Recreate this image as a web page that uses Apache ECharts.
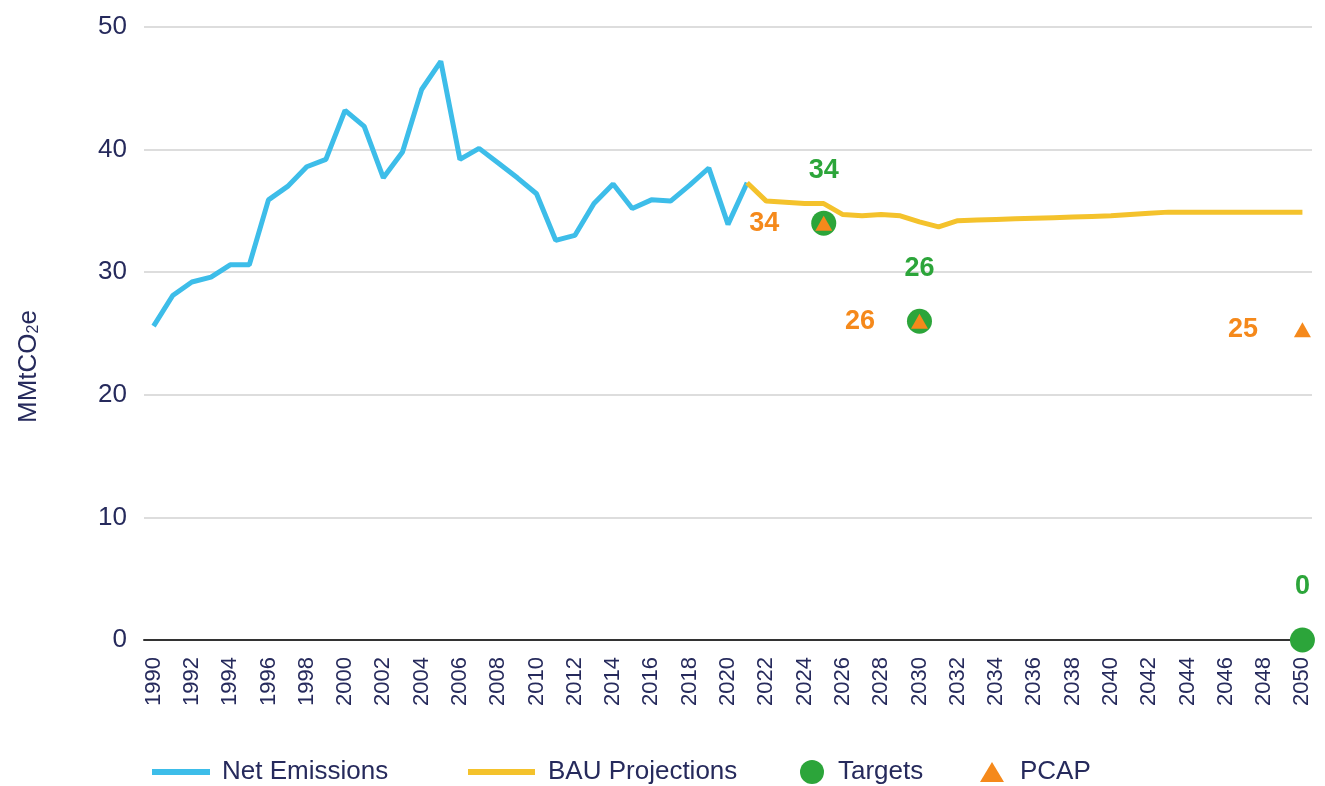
<!DOCTYPE html>
<html>
<head>
<meta charset="utf-8">
<script src="https://cdn.jsdelivr.net/npm/echarts@6/dist/echarts.min.js"></script>
<style>
  html, body { margin: 0; padding: 0; background: #fff; }
  #chart { width: 1325px; height: 786px; }
</style>
</head>
<body>
<div id="chart"></div>
<script>
const years = []
for (let y = 1990; y <= 2050; y++) years.push(String(y))

// 1990 - 2021
const netEmissions = [
  25.6, 28.1, 29.2, 29.6, 30.6, 30.6, 35.9, 37.0, 38.6, 39.2,
  43.2, 41.9, 37.7, 39.8, 44.9, 47.2, 39.2, 40.1, 38.9, 37.7,
  36.4, 32.6, 33.0, 35.6, 37.2, 35.2, 35.9, 35.8, 37.1, 38.5,
  33.9, 37.3
]
// 2021 - 2050
const bauProjections = [
  37.3, 35.8, 35.7, 35.6, 35.6, 34.7, 34.6, 34.7, 34.6, 34.1,
  33.7, 34.2, 34.25, 34.3, 34.35, 34.4, 34.45, 34.5, 34.55, 34.6,
  34.7, 34.8, 34.9, 34.9, 34.9, 34.9, 34.9, 34.9, 34.9, 34.9
]
const targetYears = ['2025', '2030', '2050']
const targetValues = [34, 26, 0]
const pcapYears = ['2025', '2030', '2050']
const pcapValues = [34, 26, 25.3]

const navy = '#262a5c'
const green = '#2ca53a'
const orange = '#f5891b'

function padded(startYear, values) {
  const out = years.map(() => null)
  const i0 = years.indexOf(startYear)
  values.forEach((v, i) => { out[i0 + i] = v })
  return out
}
function points(ys, vals) {
  const out = years.map(() => null)
  ys.forEach((y, i) => { out[years.indexOf(y)] = vals[i] })
  return out
}

const chart = echarts.init(document.getElementById('chart'))
const legendText = { color: navy, fontSize: 26, fontFamily: 'Liberation Sans' }
const option = {
  backgroundColor: '#fff',
  animation: false,
  textStyle: { fontFamily: 'Liberation Sans' },
  grid: { left: 144, right: 13, top: 27, bottom: 146, containLabel: false, outerBoundsMode: 'none' },
  legend: [
    { data: ['Net Emissions'], left: 147, top: 754, icon: 'rect', itemWidth: 58, itemHeight: 6,
      textStyle: Object.assign({ padding: [0, 0, 0, 7] }, legendText) },
    { data: ['BAU Projections'], left: 463, top: 754, icon: 'rect', itemWidth: 67, itemHeight: 6,
      textStyle: Object.assign({ padding: [0, 0, 0, 8] }, legendText) },
    { data: ['Targets'], left: 795, top: 754, icon: 'circle', itemWidth: 24, itemHeight: 24,
      textStyle: Object.assign({ padding: [0, 0, 0, 9] }, legendText) },
    { data: ['PCAP'], left: 975, top: 754, icon: 'triangle', itemWidth: 24, itemHeight: 20,
      textStyle: Object.assign({ padding: [0, 0, 0, 11] }, legendText) }
  ],
  xAxis: {
    type: 'category',
    data: years,
    boundaryGap: true,
    axisLine: { lineStyle: { color: '#333', width: 2 } },
    axisTick: { show: false },
    axisLabel: { interval: 1, rotate: 90, color: navy, fontSize: 22, margin: 17 }
  },
  yAxis: {
    type: 'value',
    min: 0,
    max: 50,
    interval: 10,
    name: 'MMtCO{sub|2}e',
    nameLocation: 'middle',
    nameGap: 102,
    nameTextStyle: {
      color: navy,
      fontSize: 26,
      padding: [0, 66, 0, 0],
      rich: { sub: { fontSize: 16, color: navy, verticalAlign: 'bottom', padding: [10, 0, 0, 0] } }
    },
    axisLabel: { color: navy, fontSize: 26, margin: 17 },
    splitLine: { lineStyle: { color: '#d2d2d2', width: 1.5 } }
  },
  series: [
    {
      name: 'Net Emissions',
      type: 'line',
      data: padded('1990', netEmissions),
      showSymbol: false,
      color: '#3dbde9',
      lineStyle: { width: 5, color: '#3dbde9' }
    },
    {
      name: 'BAU Projections',
      type: 'line',
      data: padded('2021', bauProjections),
      showSymbol: false,
      color: '#f4c22c',
      lineStyle: { width: 5, color: '#f4c22c' }
    },
    {
      name: 'Targets',
      type: 'scatter',
      data: points(targetYears, targetValues),
      symbol: 'circle',
      symbolSize: 25,
      itemStyle: { color: green, opacity: 1 },
      label: {
        show: true,
        position: 'top',
        distance: 27,
        color: green,
        fontSize: 27,
        fontWeight: 'bold',
        formatter: p => Math.round(p.value)
      }
    },
    {
      name: 'PCAP',
      type: 'scatter',
      data: points(pcapYears, pcapValues),
      symbol: 'triangle',
      symbolSize: [17, 15],
      itemStyle: { color: orange, opacity: 1 },
      label: {
        show: true,
        position: 'left',
        distance: 36,
        color: orange,
        fontSize: 27,
        fontWeight: 'bold',
        formatter: p => Math.round(p.value)
      }
    }
  ]
}
chart.setOption(option)
</script>
</body>
</html>
